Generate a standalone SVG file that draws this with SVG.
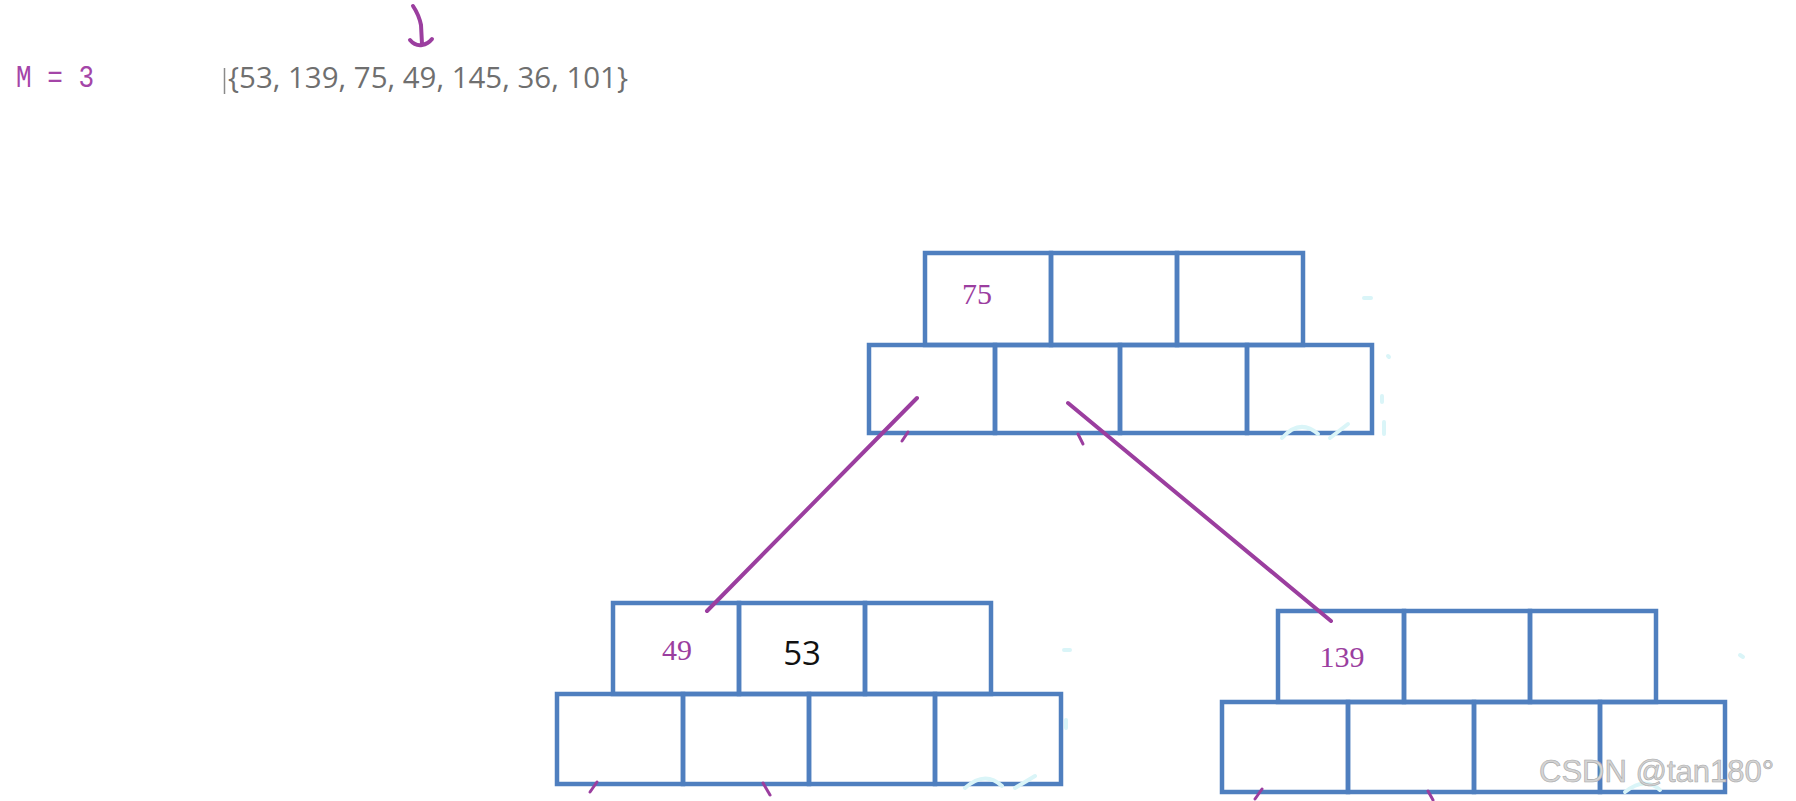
<svg xmlns="http://www.w3.org/2000/svg" width="1796" height="801" viewBox="0 0 1796 801">
<style>
.cell{fill:none;stroke:#4f7fbf;stroke-width:4.5;stroke-linejoin:miter}
.edge{fill:none;stroke:#9b3e9f;stroke-width:4;stroke-linecap:round}
.tick{fill:none;stroke:#9b3e9f;stroke-width:3;stroke-linecap:round}
.key{font-family:"Liberation Serif","DejaVu Serif",serif;font-size:30px;fill:#9b3e9f;text-anchor:middle}
.keyb{font-family:"Open Sans","Noto Sans",sans-serif;font-size:33px;fill:#111111;text-anchor:middle}
.faint{fill:none;stroke:#daf5f8;stroke-width:4;stroke-linecap:round}
</style>
<rect width="1796" height="801" fill="#ffffff"/>
<g id="header">
<text x="16" y="87" font-family="Liberation Mono, monospace" font-size="32" fill="#a445a8" textLength="78" lengthAdjust="spacingAndGlyphs">M = 3</text>
<line x1="224.5" y1="68" x2="224.5" y2="94" stroke="#8a8a8a" stroke-width="1.5"/>
<text x="228" y="88" font-family="Open Sans, Noto Sans, sans-serif" font-size="30" fill="#6f6f6f" textLength="400" lengthAdjust="spacingAndGlyphs">{53, 139, 75, 49, 145, 36, 101}</text>
<path class="edge" d="M413 6 Q419 15 421 25 L422 44" stroke-width="2.6"/>
<path class="edge" d="M410 40 Q415 46 422 45 Q428 44 432 39" stroke-width="2.6"/>
</g>
<g id="node-root">
<rect class="cell" x="925" y="253" width="126" height="92"/>
<rect class="cell" x="1051" y="253" width="126" height="92"/>
<rect class="cell" x="1177" y="253" width="126" height="92"/>
<rect class="cell" x="869" y="345" width="126" height="88"/>
<rect class="cell" x="995" y="345" width="125" height="88"/>
<rect class="cell" x="1120" y="345" width="127" height="88"/>
<rect class="cell" x="1247" y="345" width="125" height="88"/>
<text class="key" x="977" y="304">75</text>
</g>
<g id="node-left">
<rect class="cell" x="613" y="603" width="126" height="91"/>
<rect class="cell" x="739" y="603" width="126" height="91"/>
<rect class="cell" x="865" y="603" width="126" height="91"/>
<rect class="cell" x="557" y="694" width="126" height="90"/>
<rect class="cell" x="683" y="694" width="126" height="90"/>
<rect class="cell" x="809" y="694" width="126" height="90"/>
<rect class="cell" x="935" y="694" width="126" height="90"/>
<text class="key" x="677" y="660">49</text>
<text class="keyb" x="802" y="665">53</text>
</g>
<g id="node-right">
<rect class="cell" x="1278" y="611" width="126" height="91"/>
<rect class="cell" x="1404" y="611" width="126" height="91"/>
<rect class="cell" x="1530" y="611" width="126" height="91"/>
<rect class="cell" x="1222" y="702" width="126" height="90"/>
<rect class="cell" x="1348" y="702" width="126" height="90"/>
<rect class="cell" x="1474" y="702" width="126" height="90"/>
<rect class="cell" x="1600" y="702" width="125" height="90"/>
<text class="key" x="1342" y="667">139</text>
</g>
<g id="connectors">
<line class="edge" x1="917" y1="398" x2="707" y2="611"/>
<line class="edge" x1="1068" y1="403" x2="1331" y2="621"/>
<line class="tick" x1="908" y1="432" x2="902" y2="441"/>
<line class="tick" x1="1078" y1="434" x2="1083" y2="444"/>
<line class="tick" x1="597" y1="782" x2="590" y2="792"/>
<line class="tick" x1="763" y1="783" x2="770" y2="795"/>
<line class="tick" x1="1262" y1="789" x2="1255" y2="799"/>
<line class="tick" x1="1428" y1="791" x2="1433" y2="800"/>
</g>
<g id="artifacts">
<path class="faint" d="M1364 298 L1371 298"/>
<path class="faint" d="M1388 356 L1389 357"/>
<path class="faint" d="M1382 396 L1382 402 M1384 422 L1384 434"/>
<path class="faint" d="M1282 438 Q1300 418 1318 434 M1330 438 L1348 424"/>
<path class="faint" d="M1064 650 L1070 650 M1066 720 L1066 728"/>
<path class="faint" d="M965 788 Q985 770 1002 786 M1015 788 L1035 776"/>
<path class="faint" d="M1740 655 L1743 657"/>
<path class="faint" d="M1625 792 Q1645 776 1660 790"/>
</g>
<g id="watermark">
<text x="1539" y="782" font-family="Liberation Sans, Arial, sans-serif" font-size="31" fill="#d4d4d4" stroke="#a8a8a8" stroke-width="0.6">CSDN @tan180°</text>
</g>
</svg>
